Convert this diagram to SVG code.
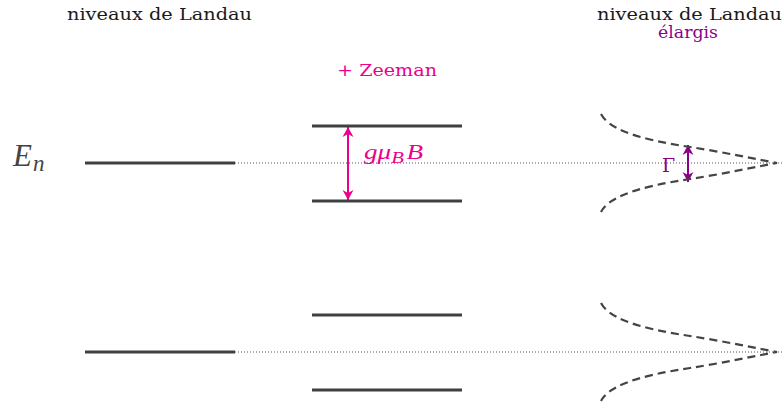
<svg xmlns="http://www.w3.org/2000/svg" width="784" height="408" viewBox="0 0 784 408">
<style>
.t{font-family:"DejaVu Serif","Liberation Serif",serif;font-size:16px;fill:#1a1a1a}
.lvl{stroke:#404040;stroke-width:3;fill:none}
.dot{stroke:#555;stroke-width:1;stroke-dasharray:1 2;fill:none}
.lor{stroke:#444;stroke-width:2.2;stroke-dasharray:8 5;fill:none;stroke-linejoin:miter}
.mag{fill:#ec008c}
.pur{fill:#8b008b}
.it{font-family:"Liberation Serif","DejaVu Serif",serif;font-style:italic}
</style>
<defs>
<marker id="am" viewBox="-11 -6 12 12" refX="0" refY="0" markerWidth="12" markerHeight="12" markerUnits="userSpaceOnUse" orient="auto-start-reverse">
<path d="M0,0 L-10,-5.5 L-7,0 L-10,5.5 Z" fill="#ec008c"/>
</marker>
<marker id="ap" viewBox="-11 -6 12 12" refX="0" refY="0" markerWidth="12" markerHeight="12" markerUnits="userSpaceOnUse" orient="auto-start-reverse">
<path d="M0,0 L-10,-5.5 L-7,0 L-10,5.5 Z" fill="#8b008b"/>
</marker>
<path id="lorpath" d="M601,114 C608,127 630,138 690,147 C720,151.5 760,160 777,163 C760,166 720,174.5 690,179 C630,188 608,199 601,212"/>
</defs>

<g id="titles">
<text class="t" x="67" y="20" textLength="185" lengthAdjust="spacingAndGlyphs">niveaux de Landau</text>
<text class="t" x="597" y="20" textLength="185" lengthAdjust="spacingAndGlyphs">niveaux de Landau</text>
<text class="t pur" x="658" y="38" textLength="60" lengthAdjust="spacingAndGlyphs">élargis</text>
<text class="t mag" x="337" y="76" textLength="100" lengthAdjust="spacingAndGlyphs">+ Zeeman</text>
</g>

<g id="En-label">
<text class="it" x="13" y="166" style="font-size:31px;fill:#444">E<tspan font-size="23" dy="5" dx="1">n</tspan></text>
</g>

<g id="connectors">
<line class="dot" x1="235" y1="163" x2="784" y2="163"/>
<line class="dot" x1="235" y1="352" x2="784" y2="352"/>
<line x1="348" y1="127" x2="348" y2="200" stroke="#ec008c" stroke-width="2" marker-start="url(#am)" marker-end="url(#am)"/>
<line x1="688" y1="145" x2="688" y2="182" stroke="#8b008b" stroke-width="2" marker-start="url(#ap)" marker-end="url(#ap)"/>
</g>

<g id="level-left-1"><line class="lvl" x1="85" y1="163" x2="235" y2="163"/></g>
<g id="level-left-2"><line class="lvl" x1="85" y1="352" x2="235" y2="352"/></g>
<g id="level-zeeman-1">
<line class="lvl" x1="312" y1="126" x2="462" y2="126"/>
<line class="lvl" x1="312" y1="201" x2="462" y2="201"/>
</g>
<g id="level-zeeman-2">
<line class="lvl" x1="312" y1="315" x2="462" y2="315"/>
<line class="lvl" x1="312" y1="390" x2="462" y2="390"/>
</g>
<g id="broadened-1"><use href="#lorpath" class="lor"/></g>
<g id="broadened-2"><use href="#lorpath" class="lor" transform="translate(0,189)"/></g>

<g id="labels">
<text class="it" x="364" y="159" textLength="59" lengthAdjust="spacingAndGlyphs" style="font-size:21px;fill:#ec008c">gμ<tspan font-size="16" dy="4">B</tspan><tspan dy="-4" dx="2">B</tspan></text>
<text x="662" y="172" style="font-family:'DejaVu Serif','Liberation Serif',serif;font-size:19px;fill:#8b008b">Γ</text>
</g>
</svg>
